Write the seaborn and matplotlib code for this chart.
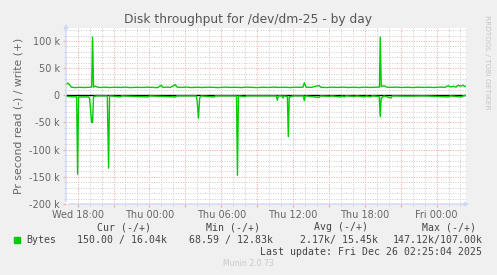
import numpy as np
import pandas as pd
import matplotlib
matplotlib.use("Agg")
import matplotlib.pyplot as plt
import matplotlib.dates as mdates
import matplotlib.ticker as mticker
import seaborn as sns

# ---------------- data (hours since Wed 2025-12-24 00:00, values in k bytes/s)
write_hours = [17.06, 17.18, 17.31, 17.47, 17.8, 18.2, 18.6, 19.0, 19.18, 19.25, 19.33,
               19.48, 19.64, 19.9, 20.3, 20.7, 21.1, 21.6, 22.0, 22.4, 22.9, 23.3, 23.8,
               24.2, 24.7, 24.99, 25.15, 25.5, 25.74, 26.16, 26.32, 26.7, 27.1, 27.5,
               28.0, 28.4, 28.9, 29.4, 29.8, 30.3, 30.8, 31.2, 31.7, 32.1, 32.6, 33.0,
               33.5, 33.9, 34.4, 34.8, 35.3, 35.8, 36.2, 36.6, 36.84, 36.95, 37.09,
               37.5, 38.18, 38.34, 38.8, 39.3, 39.7, 40.2, 40.6, 41.1, 41.5, 42.0,
               42.4, 42.9, 43.23, 43.29, 43.38, 43.6, 43.85, 44.2, 44.7, 45.1, 45.6,
               46.0, 46.5, 46.9, 47.4, 47.8, 48.3, 48.7, 48.95, 49.2, 49.45, 49.62,
               49.8, 49.96, 50.1, 50.21, 50.35, 50.46]
write_k = [20.0, 22.5, 20.0, 15.0, 14.2, 14.8, 14.3, 14.9, 15.2, 107.0, 15.0,
           17.0, 15.2, 14.4, 15.0, 14.3, 14.9, 14.5, 15.1, 14.2, 14.8, 14.4, 15.0,
           14.6, 14.2, 18.5, 14.6, 15.1, 14.4, 19.5, 15.0, 14.5, 15.2, 14.3,
           14.9, 14.4, 15.0, 14.6, 14.2, 15.1, 14.5, 14.8, 14.3, 15.0, 14.6, 14.2,
           14.9, 14.4, 15.1, 14.5, 14.9, 14.3, 15.0, 14.6, 15.0, 23.0, 15.0,
           14.5, 18.0, 14.8, 14.3, 15.0, 14.5, 15.1, 14.4, 14.9, 14.3, 15.0,
           14.5, 14.9, 15.0, 107.0, 16.0, 17.5, 15.0, 14.6, 15.1, 14.4, 14.9,
           14.3, 15.0, 14.5, 14.9, 14.4, 15.1, 14.6, 17.5, 15.5, 16.5, 15.0,
           18.5, 17.0, 17.5, 18.5, 16.5, 16.04]

read_hours = [17.06, 17.5, 17.92, 18.0, 18.08, 18.9, 19.0, 19.17, 19.25, 19.33, 19.6,
              20.48, 20.59, 20.67, 21.0, 21.56, 21.7, 23.9, 24.0, 26.16, 26.3, 27.91,
              27.99, 28.1, 28.2, 28.33, 29.41, 29.5, 31.28, 31.36, 31.44, 32.0, 32.1,
              34.6, 34.69, 34.78, 35.1, 35.17, 35.25, 35.53, 35.61, 35.69, 35.84,
              35.95, 36.87, 36.95, 37.03, 38.18, 38.3, 39.09, 39.2, 40.0, 40.1, 40.29,
              40.4, 41.18, 41.3, 42.01, 42.1, 42.5, 42.6, 43.21, 43.29, 43.37, 43.5,
              43.6, 44.19, 44.3, 45.5, 47.0, 49.03, 49.12, 50.1, 50.2, 50.46]
read_k = [-2.0, -2.5, -3.0, -145.0, -3.0, -3.0, -5.0, -50.0, -50.0, -2.0, -1.0,
          -1.0, -134.0, -1.0, -1.5, -3.0, -1.0, -3.0, -1.0, -3.0, -1.0, -1.0,
          -10.0, -42.0, -5.0, -1.0, -3.0, -1.0, -1.0, -147.12, -1.0, -2.5, -1.0,
          -1.0, -9.0, -1.0, -1.0, -5.0, -1.0, -2.0, -76.0, -2.0, -3.0,
          -1.0, -1.0, -10.0, -1.0, -4.0, -1.0, -2.0, -1.0, -3.0, -1.0, -3.0,
          -1.0, -2.0, -1.0, -3.0, -1.0, -3.0, -1.0, -2.0, -39.0, -5.0, -3.0,
          -1.0, -5.0, -1.0, -1.5, -1.0, -3.0, -1.0, -3.0, -1.0, -0.15]

x_tick_labels = ["Wed 18:00", "Thu 00:00", "Thu 06:00", "Thu 12:00", "Thu 18:00", "Fri 00:00"]
y_tick_values = [100000, 50000, 0, -50000, -100000, -150000, -200000]
y_tick_labels = ["100 k", "50 k", "0", "-50 k", "-100 k", "-150 k", "-200 k"]

legend_headers = ["Cur (-/+)", "Min (-/+)", "Avg (-/+)", "Max (-/+)"]
legend_values = ["150.00 / 16.04k", "68.59 / 12.83k", "2.17k/ 15.45k", "147.12k/107.00k"]

# ---------------- build frames
base = pd.Timestamp("2025-12-24 00:00")
df_w = pd.DataFrame({"time": base + pd.to_timedelta(write_hours, unit="h"),
                     "value": np.array(write_k) * 1000, "dir": "write"})
df_r = pd.DataFrame({"time": base + pd.to_timedelta(read_hours, unit="h"),
                     "value": np.array(read_k) * 1000, "dir": "read"})

W, H = 497, 275
fig = plt.figure(figsize=(W / 100, H / 100), dpi=100, facecolor="#F0F0F0")
L, R, T, B = 66, 466, 27.7, 204
ax = fig.add_axes([L / W, 1 - B / H, (R - L) / W, (B - T) / H])
ax.set_facecolor("white")

green = "#00CC00"
ax.axhline(0, color="black", lw=1.0, zorder=3)
sns.lineplot(data=df_w, x="time", y="value", color=green, lw=1.0, ax=ax,
             estimator=None, sort=False, zorder=4)
sns.lineplot(data=df_r, x="time", y="value", color=green, lw=1.0, ax=ax,
             estimator=None, sort=False, zorder=4)

ax.set_xlim(base + pd.Timedelta(hours=17.03), base + pd.Timedelta(hours=50.46))
ax.set_ylim(-200000, 124400)

# grid
major_grid = "#F3A6A6"
minor_grid = "#CDCDCD"
ax.xaxis.set_major_locator(mdates.HourLocator(byhour=range(0, 24, 3)))
ax.xaxis.set_minor_locator(mdates.HourLocator())
label_map = {}
for lab, hh in zip(x_tick_labels, [18, 24, 30, 36, 42, 48]):
    label_map[round(mdates.date2num(base + pd.Timedelta(hours=hh)) * 24)] = lab

def xfmt(v, pos):
    return label_map.get(round(v * 24), "")

ax.xaxis.set_major_formatter(mticker.FuncFormatter(xfmt))
ax.yaxis.set_major_locator(mticker.FixedLocator(y_tick_values))
ax.yaxis.set_major_formatter(mticker.FixedFormatter(y_tick_labels))
ax.yaxis.set_minor_locator(mticker.MultipleLocator(10000))

dash = (0, (1.0, 1.5))
ax.grid(which="minor", color=minor_grid, lw=0.7, linestyle=dash, zorder=1)
ax.grid(which="major", color=major_grid, lw=0.7, linestyle=dash, zorder=2)
ax.set_axisbelow(True)

for s in ax.spines.values():
    s.set_visible(False)

txt = "#666666"
ax.tick_params(axis="both", which="major", labelsize=7, labelcolor=txt, length=2.5,
               width=0.8, color=major_grid, pad=2)
ax.tick_params(axis="both", which="minor", length=1.5, width=0.6, color=minor_grid)
ax.tick_params(axis="x", which="major", pad=1.5)
ax.set_xlabel("")
ax.set_ylabel("Pr second read (-) / write (+)", fontsize=7.8, color=txt, labelpad=4)

# axis lines with arrows
axc = "#CFD6F8"
fig.add_artist(matplotlib.patches.FancyArrowPatch(
    (L / W, 1 - B / H), (472 / W, 1 - B / H), transform=fig.transFigure,
    arrowstyle="-|>", mutation_scale=6, color=axc, lw=1))
fig.add_artist(matplotlib.patches.FancyArrowPatch(
    (L / W, 1 - B / H), (L / W, 1 - 21 / H), transform=fig.transFigure,
    arrowstyle="-|>", mutation_scale=6, color=axc, lw=1))

# title
fig.text(248 / W, 1 - 19.3 / H, "Disk throughput for /dev/dm-25 - by day",
         ha="center", va="center", fontsize=8.8, color="#555555")
# rrdtool credit
fig.text(487 / W, 1 - 15 / H, "RRDTOOL / TOBI OETIKER", rotation=270,
         ha="center", va="top", fontsize=5.3, color="#C4C4C4")

# legend
mono = "DejaVu Sans Mono"
fs = 7.1
hdr_right = [151, 260, 368, 476]
val_right = [166.7, 272.7, 377.7, 482.3]
for h_, xr in zip(legend_headers, hdr_right):
    fig.text(xr / W, 1 - 227.3 / H, h_, ha="right", va="center", family=mono,
             fontsize=fs, color="#444444")
for v_, xr in zip(legend_values, val_right):
    fig.text(xr / W, 1 - 239.7 / H, v_, ha="right", va="center", family=mono,
             fontsize=fs, color="#444444")
fig.add_artist(matplotlib.patches.Rectangle((14 / W, 1 - 242.7 / H), 6 / W, 6 / H,
                                            transform=fig.transFigure, color=green))
fig.text(26.7 / W, 1 - 239.7 / H, "Bytes", ha="left", va="center", family=mono,
         fontsize=fs, color="#444444")
fig.text(482.3 / W, 1 - 251.7 / H, "Last update: Fri Dec 26 02:25:04 2025",
         ha="right", va="center", family=mono, fontsize=fs, color="#444444")
fig.text(248 / W, 1 - 263.3 / H, "Munin 2.0.73", ha="center", va="center",
         fontsize=5.6, color="#C8C8C8")

fig.savefig("out.png", dpi=100, facecolor=fig.get_facecolor())
